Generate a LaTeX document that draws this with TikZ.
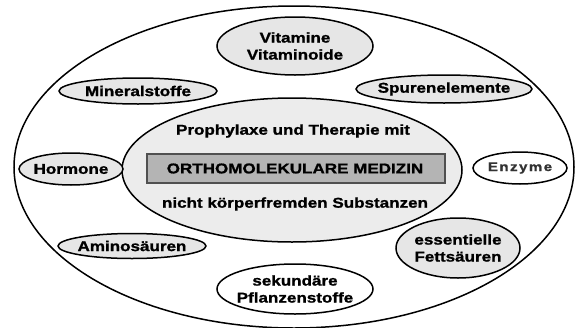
\documentclass[tikz,border=0pt]{standalone}
\usepackage{fontspec}
\setmainfont{Liberation Sans}[FakeStretch=1.2,BoldFeatures={FakeBold=1.2}]
\newfontfamily\enzfont{Liberation Sans}[FakeStretch=1.2,LetterSpace=12,BoldFeatures={FakeBold=1.2}]
\usetikzlibrary{shapes.geometric}
\definecolor{lightfill}{HTML}{E6E6E6}
\definecolor{centerfill}{HTML}{ECECEC}
\definecolor{rectfill}{HTML}{B4B4B4}
\definecolor{rectline}{HTML}{505050}
\tikzset{
  blob/.style={ellipse, draw=black, line width=1.5pt, inner sep=0pt},
  greyblob/.style={blob, fill=lightfill},
  whiteblob/.style={blob, fill=white},
  lbl/.style={font=\fontsize{14.2}{17}\selectfont\bfseries, align=center, inner sep=0pt, text=black},
}
\begin{document}
\begin{tikzpicture}[x=1pt,y=-1pt]
\useasboundingbox (0,0) rectangle (576,327);
% outer ellipse
\node[whiteblob, minimum width=560pt, minimum height=322pt] (outer) at (294,167) {};
% central ellipse
\node[blob, fill=centerfill, minimum width=340pt, minimum height=144pt] (center) at (292,170) {};
\node[draw=rectline, line width=1.3pt, fill=rectfill, minimum width=298pt, minimum height=29pt, inner sep=0pt] (omrect) at (296,168.5) {};
\node[lbl] (omtext) at (295,168.5) {ORTHOMOLEKULARE MEDIZIN};
\node[lbl] (proph) at (293,131) {Prophylaxe und Therapie mit};
\node[lbl] (nicht) at (295,204) {nicht körperfremden Substanzen};
% satellites
\node[greyblob, minimum width=156pt, minimum height=58pt] (vit) at (295,46) {};
\node[lbl] (vitt) at (vit) {Vitamine\\Vitaminoide};
\node[greyblob, minimum width=158pt, minimum height=26pt] (min) at (138,91) {};
\node[lbl] (mint) at (min) {Mineralstoffe};
\node[greyblob, minimum width=176pt, minimum height=28pt] (spu) at (444,89) {};
\node[lbl] (sput) at (spu) {Spurenelemente};
\node[greyblob, minimum width=104pt, minimum height=32pt] (hor) at (71,169) {};
\node[lbl] (hort) at (hor) {Hormone};
\node[whiteblob, minimum width=94pt, minimum height=32pt] (enz) at (520,168) {};
\node[lbl, font=\enzfont\fontsize{12.5}{15}\selectfont\bfseries, text=black!80] (enzt) at (enz) {Enzyme};
\node[greyblob, minimum width=148pt, minimum height=25pt] (ami) at (132,246) {};
\node[lbl] (amit) at (ami) {Aminosäuren};
\node[greyblob, minimum width=124pt, minimum height=60pt] (fett) at (458,248) {};
\node[lbl] (fettt) at (fett) {essentielle\\Fettsäuren};
\node[whiteblob, minimum width=156pt, minimum height=50pt] (sek) at (295,289) {};
\node[lbl] (sekt) at (sek) {sekundäre\\Pflanzenstoffe};
\end{tikzpicture}
\end{document}
